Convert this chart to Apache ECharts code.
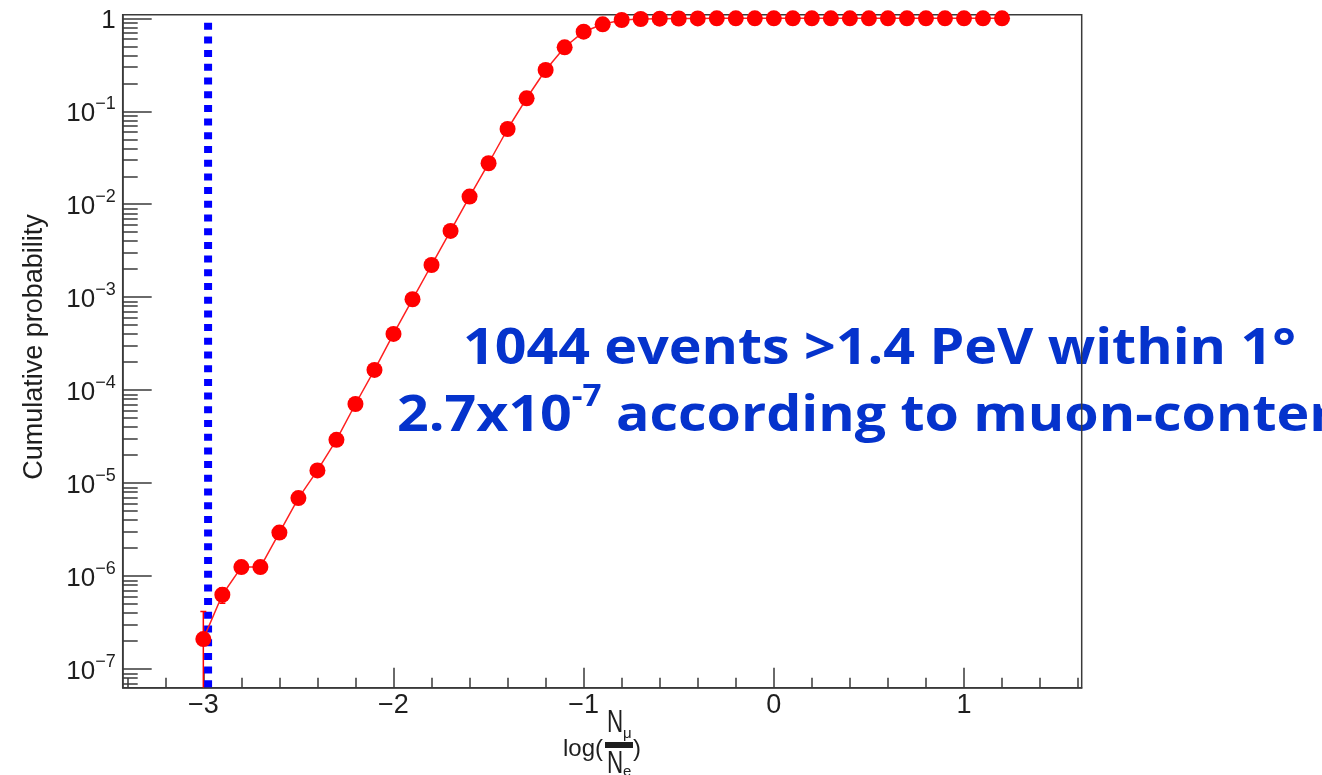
<!DOCTYPE html>
<html>
<head>
<meta charset="utf-8">
<script src="https://cdn.jsdelivr.net/npm/echarts@6/dist/echarts.min.js"></script>
<style>
  html, body { margin: 0; padding: 0; background: #ffffff; }
  #chart { width: 1322px; height: 775px; }
</style>
</head>
<body>
<div id="chart"></div>
<script>
// log10(N_mu / N_e) bin centres
const logRatio = [
  -3.0, -2.9, -2.8, -2.7, -2.6, -2.5, -2.4, -2.3, -2.2, -2.1,
  -2.0, -1.9, -1.8, -1.7, -1.6, -1.5, -1.4, -1.3, -1.2, -1.1,
  -1.0, -0.9, -0.8, -0.7, -0.6, -0.5, -0.4, -0.3, -0.2, -0.1,
   0.0,  0.1,  0.2,  0.3,  0.4,  0.5,  0.6,  0.7,  0.8,  0.9,
   1.0,  1.1,  1.2
];
// cumulative probability at each bin
const cumProb = [
  2.1e-7, 6.3e-7, 1.25e-6, 1.25e-6, 2.94e-6, 6.9e-6, 1.37e-5, 2.92e-5, 7.1e-5, 1.65e-4,
  4.03e-4, 9.5e-4, 2.22e-3, 5.16e-3, 1.21e-2, 2.76e-2, 6.45e-2, 0.138, 0.278, 0.488,
  0.718, 0.862, 0.959, 0.983, 0.992, 0.996, 0.998, 0.999, 0.9995, 0.9998,
  1.0, 1.0, 1.0, 1.0, 1.0, 1.0, 1.0, 1.0, 1.0, 1.0,
  1.0, 1.0, 1.0
];
// error bars on the low-statistics bins
const errX = [-3.0, -2.9];
const errLow = [0, 5.1e-7];
const errHigh = [4.15e-7, 7.5e-7];

// selection cut
const cutX = -2.975;
const cutTop = 0.897;

// axis ranges and ticks
const X_MIN = -3.424, X_MAX = 1.619;
const Y_MIN = 6.3e-8, Y_MAX = 1.094;
const xTickLabels = [-3, -2, -1, 0, 1];
const yTickValues = [1e-7, 1e-6, 1e-5, 1e-4, 1e-3, 1e-2, 1e-1, 1];

const xMinorTicks = [];
for (let i = -17; i <= 8; i++) {
  if (i % 5 !== 0) xMinorTicks.push(Math.round(i * 2) / 10);
}
const yMinorTicks = [];
for (let e = -8; e <= 0; e++) {
  for (let k = 2; k <= 9; k++) {
    const v = k * Math.pow(10, e);
    if (v >= Y_MIN && v <= Y_MAX) yMinorTicks.push(v);
  }
}

const FONT = "'Liberation Sans', Arial, Helvetica, sans-serif";
const NOTE_FONT = "'Open Sans', 'Noto Sans', sans-serif";
const AXIS_COLOR = '#3a3a3a';
const TEXT_COLOR = '#1e1e1e';
const BLUE_TEXT = '#0533cc';

const chart = echarts.init(document.getElementById('chart'), null, { renderer: 'canvas' });

const pointData = logRatio.map((x, i) => [x, cumProb[i]]);
const errData = errX.map((x, i) => [x, errLow[i], errHigh[i]]);

function fmtX(v) {
  return v < 0 ? '\u2212' + Math.abs(v) : String(v);
}
function fmtY(v) {
  const e = Math.round(Math.log10(v));
  if (e === 0) return '{b|1}';
  return '{b|10}{s|\u2212' + Math.abs(e) + '}';
}

const hiddenAxisParts = {
  axisLine: { show: false, onZero: false },
  axisLabel: { show: false },
  splitLine: { show: false }
};

chart.setOption({
  animation: false,
  backgroundColor: '#ffffff',
  grid: {
    left: 122.7, right: 240.3, top: 14.7, bottom: 87.3,
    show: true, borderColor: AXIS_COLOR, borderWidth: 1.5, backgroundColor: 'transparent'
  },
  xAxis: [
    {
      type: 'value', min: X_MIN, max: X_MAX, position: 'bottom',
      axisLine: { show: true, onZero: false, lineStyle: { color: AXIS_COLOR, width: 1.5 } },
      axisTick: { show: true, inside: true, length: 20, customValues: xTickLabels,
                  lineStyle: { color: AXIS_COLOR, width: 1.5 } },
      axisLabel: { show: true, customValues: xTickLabels, formatter: fmtX, margin: 4,
                   fontFamily: FONT, fontSize: 27, color: TEXT_COLOR },
      splitLine: { show: false }
    },
    Object.assign({
      type: 'value', min: X_MIN, max: X_MAX, position: 'bottom',
      axisTick: { show: true, inside: true, length: 10, customValues: xMinorTicks,
                  lineStyle: { color: AXIS_COLOR, width: 1.5 } }
    }, hiddenAxisParts)
  ],
  yAxis: [
    {
      type: 'log', logBase: 10, min: Y_MIN, max: Y_MAX, position: 'left',
      axisLine: { show: true, onZero: false, lineStyle: { color: AXIS_COLOR, width: 1.5 } },
      axisTick: { show: true, inside: true, length: 29, customValues: yTickValues,
                  lineStyle: { color: AXIS_COLOR, width: 1.5 } },
      axisLabel: {
        show: true, customValues: yTickValues, formatter: fmtY, margin: 7,
        rich: {
          b: { fontFamily: FONT, fontSize: 26, color: TEXT_COLOR, lineHeight: 32, verticalAlign: 'bottom' },
          s: { fontFamily: FONT, fontSize: 18, color: TEXT_COLOR, lineHeight: 32, verticalAlign: 'top' }
        }
      },
      splitLine: { show: false }
    },
    Object.assign({
      type: 'log', logBase: 10, min: Y_MIN, max: Y_MAX, position: 'left',
      axisTick: { show: true, inside: true, length: 15, customValues: yMinorTicks,
                  lineStyle: { color: AXIS_COLOR, width: 1.5 } }
    }, hiddenAxisParts)
  ],
  series: [
    {
      name: 'cut',
      type: 'line',
      xAxisIndex: 0, yAxisIndex: 0,
      data: [[cutX, cutTop], [cutX, Y_MIN]],
      symbol: 'none',
      lineStyle: { color: '#0000ff', width: 8, type: [7, 6.7], cap: 'butt' },
      z: 2,
      silent: true
    },
    {
      name: 'errors',
      type: 'custom',
      xAxisIndex: 0, yAxisIndex: 0,
      clip: true,
      data: errData,
      renderItem: function (params, api) {
        const x = api.value(0);
        const lo = Math.max(api.value(1), Y_MIN);
        const hi = api.value(2);
        const pLo = api.coord([x, lo]);
        const pHi = api.coord([x, hi]);
        const style = { stroke: '#ff0000', lineWidth: 1.5 };
        const children = [
          { type: 'line', shape: { x1: pLo[0], y1: pLo[1], x2: pHi[0], y2: pHi[1] }, style: style },
          { type: 'line', shape: { x1: pHi[0] - 3, y1: pHi[1], x2: pHi[0] + 3, y2: pHi[1] }, style: style }
        ];
        if (api.value(1) > Y_MIN) {
          children.push({ type: 'line', shape: { x1: pLo[0] - 3, y1: pLo[1], x2: pLo[0] + 3, y2: pLo[1] }, style: style });
        }
        return { type: 'group', children: children };
      },
      z: 3
    },
    {
      name: 'Cumulative probability',
      type: 'line',
      xAxisIndex: 0, yAxisIndex: 0,
      data: pointData,
      symbol: 'circle',
      symbolSize: 16,
      showAllSymbol: true,
      itemStyle: { color: '#ff0000' },
      lineStyle: { color: '#ff2020', width: 1.5 },
      z: 4
    }
  ],
  graphic: [
    {
      type: 'text', x: 35, y: 347, rotation: Math.PI / 2,
      style: { text: 'Cumulative probability', fontFamily: FONT, fontSize: 27, fill: TEXT_COLOR,
               align: 'center', verticalAlign: 'middle' }
    },
    {
      type: 'group', x: 0, y: 0,
      children: [
        { type: 'text', x: 563, y: 749,
          style: { text: 'log(', fontFamily: FONT, fontSize: 24, fill: TEXT_COLOR, align: 'left', verticalAlign: 'middle' } },
        { type: 'text', x: 607, y: 723, scaleX: 0.7,
          style: { text: 'N', fontFamily: FONT, fontSize: 32, fill: TEXT_COLOR, align: 'left', verticalAlign: 'middle' } },
        { type: 'text', x: 623, y: 734,
          style: { text: '\u03bc', fontFamily: FONT, fontSize: 15, fill: TEXT_COLOR, align: 'left', verticalAlign: 'middle' } },
        { type: 'rect', shape: { x: 605, y: 742, width: 28, height: 6 }, style: { fill: TEXT_COLOR } },
        { type: 'text', x: 607, y: 764, scaleX: 0.7,
          style: { text: 'N', fontFamily: FONT, fontSize: 32, fill: TEXT_COLOR, align: 'left', verticalAlign: 'middle' } },
        { type: 'text', x: 623, y: 772,
          style: { text: 'e', fontFamily: FONT, fontSize: 15, fill: TEXT_COLOR, align: 'left', verticalAlign: 'middle' } },
        { type: 'text', x: 633, y: 749,
          style: { text: ')', fontFamily: FONT, fontSize: 24, fill: TEXT_COLOR, align: 'left', verticalAlign: 'middle' } }
      ]
    },
    {
      type: 'text', x: 463, y: 350, scaleX: 1.11, z: -1,
      style: { text: '1044 events >1.4 PeV within 1\u00b0', fontFamily: NOTE_FONT,
               fontWeight: 'bold', fontSize: 50, fill: BLUE_TEXT, align: 'left', verticalAlign: 'middle' }
    },
    {
      type: 'text', x: 397, y: 412, scaleX: 1.11, z: -1,
      style: {
        text: '{a|2.7x10}{s|-7}{a| according to muon-conter}',
        align: 'left', verticalAlign: 'middle',
        rich: {
          a: { fontFamily: NOTE_FONT, fontWeight: 'bold', fontSize: 50,
               fill: BLUE_TEXT, lineHeight: 60, verticalAlign: 'bottom' },
          s: { fontFamily: NOTE_FONT, fontWeight: 'bold', fontSize: 30,
               fill: BLUE_TEXT, lineHeight: 60, verticalAlign: 'top' }
        }
      }
    }
  ]
});
</script>
</body>
</html>
